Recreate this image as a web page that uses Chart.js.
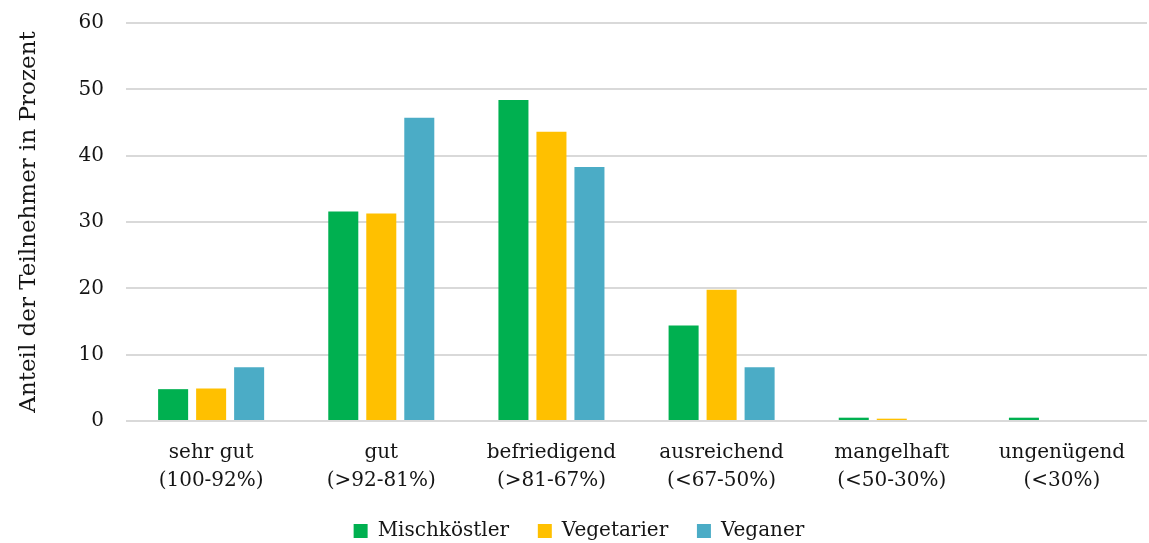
<!DOCTYPE html>
<html>
<head>
<meta charset="utf-8">
<script src="https://cdn.jsdelivr.net/npm/chart.js@4/dist/chart.umd.min.js"></script>
<style>
  html, body { margin: 0; padding: 0; background: #fff; }
  #wrap { width: 1149px; height: 543px; position: relative; }
</style>
</head>
<body>
<div id="wrap"><canvas id="c"></canvas></div>
<script>
const categories = [
  ['sehr gut', '(100-92%)'],
  ['gut', '(>92-81%)'],
  ['befriedigend', '(>81-67%)'],
  ['ausreichend', '(<67-50%)'],
  ['mangelhaft', '(<50-30%)'],
  ['ungenügend', '(<30%)']
];
const mischkostler = [4.8, 31.6, 48.4, 14.4, 0.5, 0.5];
const vegetarier   = [4.9, 31.3, 43.6, 19.8, 0.35, 0];
const veganer      = [8.1, 45.7, 38.3, 8.1, 0, 0];
const yTicks = [0, 10, 20, 30, 40, 50, 60];

const serif = "'DejaVu Serif', 'Liberation Serif', serif";
const textColor = '#151515';
Chart.defaults.font.family = serif;
Chart.defaults.color = textColor;

new Chart(document.getElementById('c'), {
  type: 'bar',
  data: {
    labels: categories,
    datasets: [
      { label: 'Mischköstler', data: mischkostler, backgroundColor: '#00B050' },
      { label: 'Vegetarier', data: vegetarier, backgroundColor: '#FFC000' },
      { label: 'Veganer', data: veganer, backgroundColor: '#4BACC6' }
    ]
  },
  options: {
    responsive: true,
    maintainAspectRatio: false,
    animation: false,
    layout: { padding: { top: 0, right: 2, left: 11, bottom: -8 } },
    datasets: { bar: { categoryPercentage: 0.67, barPercentage: 0.79 } },
    plugins: {
      tooltip: { enabled: false },
      legend: {
        position: 'bottom',
        labels: {
          font: { size: 20, family: serif },
          color: textColor,
          boxWidth: 14,
          boxHeight: 14,
          padding: 16,
          // wider gap between legend entries
          generateLabels: (chart) => {
            const items = Chart.defaults.plugins.legend.labels.generateLabels(chart);
            items.forEach((it, i) => { if (i < items.length - 1) it.text += '\u00a0\u00a0'; });
            return items;
          }
        }
      }
    },
    scales: {
      x: {
        grid: { display: false },
        border: { display: false },
        ticks: { font: { size: 20, family: serif, lineHeight: 1.4 }, color: textColor, padding: 10, maxRotation: 0 }
      },
      y: {
        min: 0, max: 60,
        afterBuildTicks: (axis) => { axis.ticks = yTicks.map(v => ({ value: v })); },
        afterFit: (axis) => { axis.paddingTop = 23; },
        grid: { color: '#d9d9d9', lineWidth: 2, drawTicks: false },
        border: { display: false },
        ticks: { font: { size: 20, family: serif }, color: textColor, padding: 22 },
        title: {
          display: true,
          text: 'Anteil der Teilnehmer in Prozent',
          font: { size: 23, family: serif },
          color: textColor,
          padding: { bottom: 14 }
        }
      }
    }
  }
});
</script>
</body>
</html>
